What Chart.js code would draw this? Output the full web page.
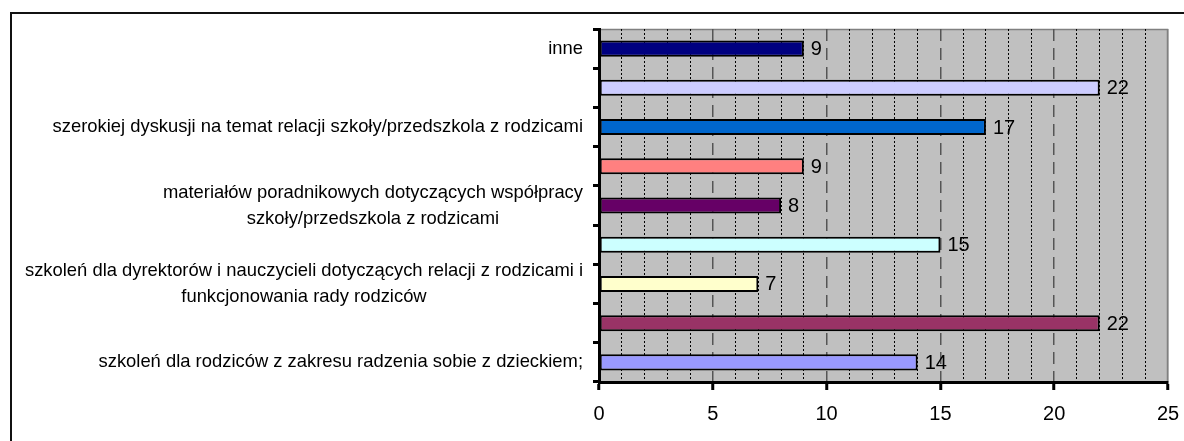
<!DOCTYPE html>
<html>
<head>
<meta charset="utf-8">
<script src="https://cdn.jsdelivr.net/npm/chart.js@4/dist/chart.umd.min.js"></script>
<style>
    html, body { margin: 0; padding: 0; background: #fff; overflow: hidden; }
    .frame {
        position: absolute;
        left: 10px;
        top: 12px;
        width: 1300px;
        height: 600px;
        border-left: 2px solid #111;
        border-top: 2px solid #111;
    }
    .chart-box { position: absolute; left: 0; top: 0; width: 1184px; height: 441px; }
</style>
</head>
<body>
<div class="frame"></div>
<div class="chart-box"><canvas id="barChart"></canvas></div>
<script>
// Chart data (top to bottom)
const categories = [
    'inne',
    '',
    'szerokiej dyskusji na temat relacji szkoły/przedszkola z rodzicami',
    '',
    ['materiałów poradnikowych dotyczących współpracy', 'szkoły/przedszkola z rodzicami'],
    '',
    ['szkoleń dla dyrektorów i nauczycieli dotyczących relacji z rodzicami i', 'funkcjonowania rady rodziców'],
    '',
    'szkoleń dla rodziców z zakresu radzenia sobie z dzieckiem;'
];
const counts = [9, 22, 17, 9, 8, 15, 7, 22, 14];
const xTickLabels = [0, 5, 10, 15, 20, 25];

const barColors = ['#000080', '#CCCCFF', '#0066CC', '#FF8080', '#660066', '#CCFFFF', '#FFFFCC', '#993366', '#9999FF'];

const FONT = '"Liberation Sans", Arial, sans-serif';

// Gray plot background with thin gray top/right edge
const plotBackground = {
    id: 'plotBackground',
    beforeDraw(chart) {
        const { ctx, chartArea: a } = chart;
        ctx.save();
        ctx.fillStyle = '#C0C0C0';
        ctx.fillRect(a.left, a.top, a.right - a.left, a.bottom - a.top);
        ctx.strokeStyle = '#808080';
        ctx.lineWidth = 1.5;
        ctx.beginPath();
        ctx.moveTo(a.left, a.top + 0.5);
        ctx.lineTo(a.right - 0.5, a.top + 0.5);
        ctx.lineTo(a.right - 0.5, a.bottom);
        ctx.stroke();
        ctx.restore();
    }
};

// Category labels: right aligned to the axis, extra lines centred under the first
const categoryLabels = {
    id: 'categoryLabels',
    afterDraw(chart) {
        const { ctx } = chart;
        const yScale = chart.scales.y;
        const rightEdge = chart.chartArea.left - 16;
        const lineHeight = 26;
        ctx.save();
        ctx.font = '18.4px ' + FONT;
        ctx.fillStyle = '#000';
        ctx.textAlign = 'center';
        ctx.textBaseline = 'middle';
        categories.forEach((label, i) => {
            if (!label) return;
            const lines = Array.isArray(label) ? label : [label];
            const widest = Math.max(...lines.map(l => ctx.measureText(l).width));
            const cx = rightEdge - widest / 2;
            const y0 = yScale.getPixelForValue(i) - (lines.length - 1) * lineHeight / 2;
            lines.forEach((line, k) => ctx.fillText(line, cx, y0 + k * lineHeight));
        });
        ctx.restore();
    }
};

// Value labels at the end of each bar
const valueLabels = {
    id: 'valueLabels',
    afterDatasetsDraw(chart) {
        const { ctx } = chart;
        const meta = chart.getDatasetMeta(0);
        ctx.save();
        ctx.font = '20px ' + FONT;
        ctx.fillStyle = '#000';
        ctx.textAlign = 'left';
        ctx.textBaseline = 'middle';
        meta.data.forEach((bar, i) => {
            ctx.fillText(String(counts[i]), bar.x + 7, bar.y + 1);
        });
        ctx.restore();
    }
};

const ctx = document.getElementById('barChart').getContext('2d');
const barChart = new Chart(ctx, {
    type: 'bar',
    data: {
        labels: categories,
        datasets: [{
            data: counts,
            backgroundColor: barColors,
            borderColor: '#000',
            borderWidth: 2,
            borderSkipped: false,
            barPercentage: 0.41,
            categoryPercentage: 1
        }]
    },
    options: {
        indexAxis: 'y',
        responsive: true,
        maintainAspectRatio: false,
        animation: false,
        layout: {
            padding: { left: 0, right: 16, top: 29, bottom: 0 }
        },
        plugins: {
            legend: { display: false },
            tooltip: { enabled: false }
        },
        scales: {
            x: {
                min: 0,
                max: 25,
                afterFit(scale) {
                    scale.height = 59;
                    scale.paddingLeft = 0;
                    scale.paddingRight = 0;
                },
                afterBuildTicks(scale) {
                    scale.ticks = [];
                    for (let v = 0; v <= 25; v++) scale.ticks.push({ value: v });
                },
                ticks: {
                    autoSkip: false,
                    maxRotation: 0,
                    color: '#000',
                    font: { family: FONT, size: 20 },
                    padding: 12,
                    callback: (v) => xTickLabels.includes(v) ? String(v) : ''
                },
                grid: {
                    drawOnChartArea: true,
                    color: (c) => {
                        const v = c.tick ? c.tick.value : 0;
                        if (v === 25) return '#808080';
                        return v % 5 === 0 ? '#555' : '#000';
                    },
                    lineWidth: (c) => {
                        const v = c.tick ? c.tick.value : 0;
                        return v % 5 === 0 ? 1.5 : 1;
                    },
                    tickColor: (c) => {
                        const v = c.tick ? c.tick.value : 0;
                        return v % 5 === 0 ? '#000' : 'rgba(0,0,0,0)';
                    },
                    tickWidth: 3,
                    tickLength: 8
                },
                border: {
                    display: true,
                    color: '#000',
                    width: 3,
                    dash: (c) => {
                        const v = c.tick ? c.tick.value : 0;
                        if (v === 25) return [];
                        return v % 5 === 0 ? [12, 7] : [2, 2];
                    }
                }
            },
            y: {
                afterFit(scale) { scale.width = 599; },
                ticks: { display: false },
                grid: {
                    offset: true,
                    drawOnChartArea: false,
                    tickColor: '#000',
                    tickWidth: 3,
                    tickLength: 6
                },
                border: { display: true, color: '#000', width: 3 }
            }
        }
    },
    plugins: [plotBackground, categoryLabels, valueLabels]
});
</script>
</body>
</html>
